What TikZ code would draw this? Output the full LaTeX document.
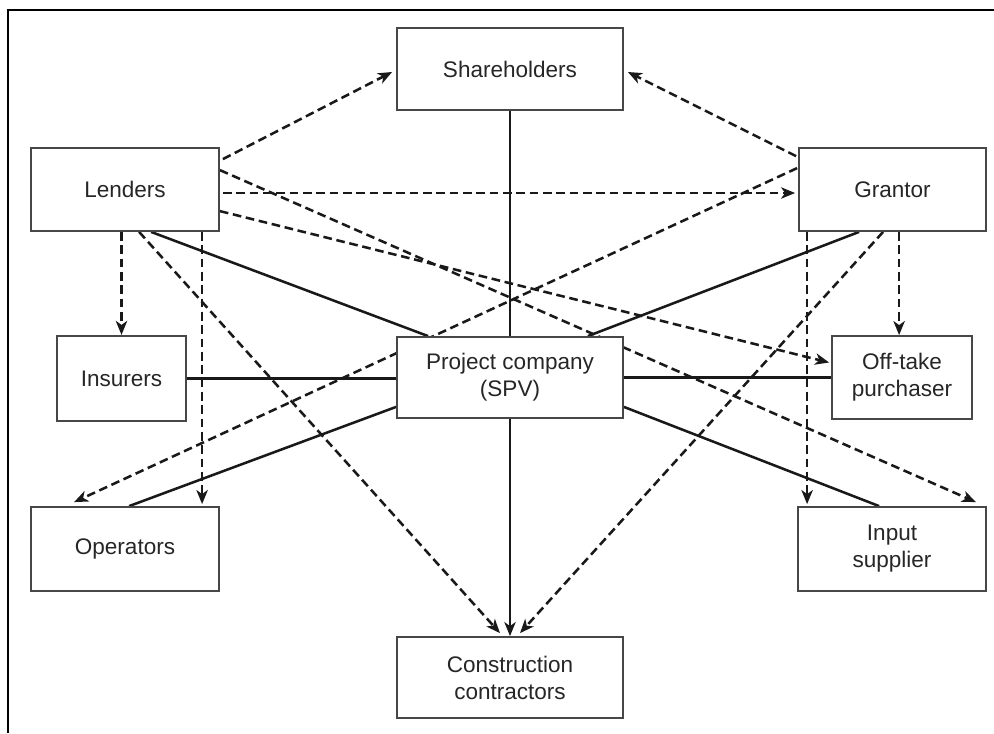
\documentclass[tikz,border=0pt]{standalone}
\usepackage{fontspec}
\setmainfont{Liberation Sans}
\usetikzlibrary{arrows.meta,calc,backgrounds}
\begin{document}
\begin{tikzpicture}[x=0.75pt,y=-0.75pt,
  box/.style={draw=black!72,line width=1.35pt,fill=white,align=center,inner sep=0pt,
    font=\fontsize{16.9}{20.3}\selectfont,text=black!85},
  rel/.style={line width=1.9pt,draw=black!90},
  dsh/.style={rel,dash pattern=on 6.5pt off 3.5pt},
  tip/.style={-{Stealth[length=10.5pt,width=8.5pt,inset=3pt]}}
]
\useasboundingbox (0,0) rectangle (994,733);
\draw[line width=1.3pt] (8,733) -- (8,10) -- (994,10);

\node[box,minimum width=169.5pt,minimum height=61.5pt] (sh) at (510,69) {Shareholders};
\node[box,minimum width=141pt,minimum height=62.25pt] (len) at (125,189.5) {Lenders};
\node[box,minimum width=140.25pt,minimum height=62.25pt] (gr) at (892.5,189.5) {Grantor};
\node[box,minimum width=96.75pt,minimum height=64pt] (ins) at (121.5,378.5) {Insurers};
\node[box,minimum width=169.5pt,minimum height=60.75pt] (spv) at (510,377.5) {Project company\\(SPV)};
\node[box,minimum width=105pt,minimum height=62.25pt] (off) at (902,377.5) {Off-take\\purchaser};
\node[box,minimum width=141pt,minimum height=63pt] (ops) at (125,549) {Operators};
\node[box,minimum width=141pt,minimum height=63pt] (inp) at (892,549) {Input\\supplier};
\node[box,minimum width=169.5pt,minimum height=60.75pt] (con) at (510,677.5) {Construction\\contractors};

\begin{scope}[on background layer]
% solid relations
\draw[rel] (sh.south) -- (spv.north);
\draw[rel,tip] (spv.south) -- (con.north);
\draw[rel] (ins.east) -- (ins.east -| spv.west);
\draw[rel] (spv.east) -- (spv.east -| off.west);
\draw[rel] ($(len.south west)+(121,0)$) -- ($(spv.north west)+(32,0)$);
\draw[rel] ($(gr.south west)+(61,0)$) -- ($(spv.north east)+(-36,0)$);
\draw[rel] ($(spv.south west)+(0,-12)$) -- ($(ops.north west)+(99,0)$);
\draw[rel] ($(spv.south east)+(0,-12)$) -- ($(inp.north west)+(82,0)$);
% dashed relations
\draw[dsh,tip] ($(len.north east)+(3,12)$) -- ($(sh.west)+(-4,3)$);
\draw[dsh,tip] ($(gr.north west)+(-2,9)$) -- ($(sh.east)+(4,3)$);
\draw[dsh,tip] ($(len.east)+(3,3.5)$) -- ($(gr.west)+(-3,3.5)$);
\draw[dsh,tip] ($(len.north east)+(0,23)$) -- ($(inp.north east)+(-11,-4)$);
\draw[dsh,tip] ($(len.north east)+(0,64)$) -- ($(off.west)+(-2,-15)$);
\draw[dsh,tip] (ins.north |- len.south) -- (ins.north);
\draw[dsh,tip] ($(len.south west)+(172,0)$) -- ($(ops.north west)+(172,-2)$);
\draw[dsh,tip] ($(len.south west)+(109,0)$) -- ($(con.north)+(-10,-3)$);
\draw[dsh,tip] ($(gr.south west)+(85,0)$) -- ($(con.north)+(10,-3)$);
\draw[dsh,tip] ($(gr.south west)+(9,0)$) -- ($(inp.north west)+(10,-2)$);
\draw[dsh,tip] ($(gr.south west)+(101,0)$) -- ($(off.north west)+(68,0)$);
\draw[dsh,tip] ($(gr.north west)+(-1,21)$) -- ($(ops.north west)+(44,-4)$);
\end{scope}
\end{tikzpicture}
\end{document}
